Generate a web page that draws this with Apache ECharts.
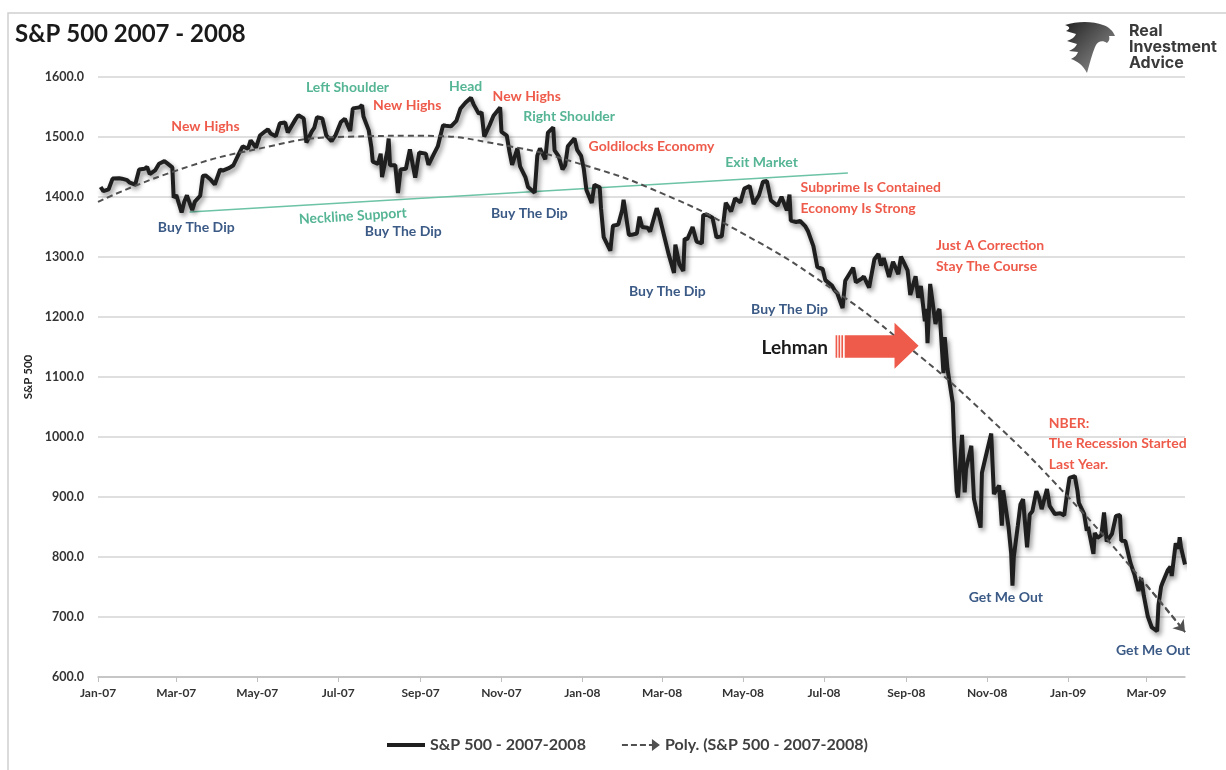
<!DOCTYPE html>
<html><head><meta charset="utf-8">
<script src="https://cdn.jsdelivr.net/npm/echarts@6/dist/echarts.min.js"></script>
<style>html,body{margin:0;padding:0;background:#fff}#c{width:1226px;height:770px}</style>
</head><body><div id="c"></div><script>
// ---------- DATA ----------
const spxDates = [
'2007-01-03','2007-01-05','2007-01-09','2007-01-12','2007-01-17','2007-01-19','2007-01-23','2007-01-25','2007-01-29','2007-02-01','2007-02-05','2007-02-07','2007-02-09','2007-02-13','2007-02-16','2007-02-20','2007-02-22','2007-02-26','2007-02-27','2007-03-01','2007-03-05','2007-03-07','2007-03-09','2007-03-13','2007-03-15','2007-03-19','2007-03-21','2007-03-23','2007-03-27','2007-03-30',
'2007-04-03','2007-04-05','2007-04-10','2007-04-13','2007-04-17','2007-04-20','2007-04-24','2007-04-26','2007-04-30','2007-05-03','2007-05-07','2007-05-09','2007-05-11','2007-05-15','2007-05-18','2007-05-22','2007-05-24','2007-05-30','2007-06-01','2007-06-05','2007-06-07','2007-06-11','2007-06-13','2007-06-15','2007-06-19','2007-06-22','2007-06-26','2007-06-29',
'2007-07-03','2007-07-06','2007-07-10','2007-07-12','2007-07-17','2007-07-19','2007-07-20','2007-07-24','2007-07-26','2007-07-27','2007-07-31','2007-08-02','2007-08-03','2007-08-07','2007-08-08','2007-08-09','2007-08-13','2007-08-15','2007-08-17','2007-08-21','2007-08-24','2007-08-28','2007-08-31','2007-09-05','2007-09-07','2007-09-11','2007-09-14','2007-09-18','2007-09-20','2007-09-24','2007-09-28',
'2007-10-01','2007-10-05','2007-10-09','2007-10-11','2007-10-15','2007-10-17','2007-10-19','2007-10-23','2007-10-26','2007-10-31','2007-11-01','2007-11-05','2007-11-07','2007-11-09','2007-11-13','2007-11-15','2007-11-19','2007-11-21','2007-11-26','2007-11-28','2007-11-30','2007-12-04','2007-12-06','2007-12-10','2007-12-11','2007-12-14','2007-12-17','2007-12-19','2007-12-21','2007-12-26','2007-12-28','2007-12-31',
'2008-01-02','2008-01-04','2008-01-08','2008-01-10','2008-01-14','2008-01-15','2008-01-17','2008-01-22','2008-01-24','2008-01-28','2008-01-31','2008-02-01','2008-02-05','2008-02-07','2008-02-11','2008-02-13','2008-02-15','2008-02-19','2008-02-21','2008-02-26','2008-02-28','2008-03-03','2008-03-06','2008-03-10','2008-03-11','2008-03-14','2008-03-17','2008-03-18','2008-03-20','2008-03-24','2008-03-27','2008-03-31',
'2008-04-01','2008-04-04','2008-04-08','2008-04-11','2008-04-15','2008-04-18','2008-04-22','2008-04-25','2008-04-29','2008-05-02','2008-05-06','2008-05-09','2008-05-13','2008-05-16','2008-05-19','2008-05-22','2008-05-27','2008-05-30','2008-06-03','2008-06-05','2008-06-06','2008-06-10','2008-06-13','2008-06-17','2008-06-19','2008-06-23','2008-06-26','2008-06-30',
'2008-07-02','2008-07-07','2008-07-09','2008-07-11','2008-07-15','2008-07-17','2008-07-23','2008-07-25','2008-07-29','2008-07-31','2008-08-04','2008-08-08','2008-08-11','2008-08-13','2008-08-15','2008-08-19','2008-08-22','2008-08-26','2008-08-28','2008-09-02','2008-09-04','2008-09-08','2008-09-10','2008-09-12','2008-09-15','2008-09-16','2008-09-17','2008-09-18','2008-09-19','2008-09-23','2008-09-25','2008-09-26','2008-09-29','2008-09-30',
'2008-10-02','2008-10-06','2008-10-07','2008-10-09','2008-10-10','2008-10-13','2008-10-15','2008-10-16','2008-10-20','2008-10-22','2008-10-24','2008-10-27','2008-10-28','2008-10-31','2008-11-04','2008-11-06','2008-11-10','2008-11-12','2008-11-13','2008-11-17','2008-11-19','2008-11-20','2008-11-21','2008-11-24','2008-11-26','2008-11-28','2008-12-01','2008-12-03','2008-12-05','2008-12-08','2008-12-10','2008-12-12','2008-12-16','2008-12-18','2008-12-22','2008-12-26','2008-12-29','2008-12-31',
'2009-01-02','2009-01-06','2009-01-08','2009-01-09','2009-01-13','2009-01-15','2009-01-16','2009-01-20','2009-01-21','2009-01-23','2009-01-26','2009-01-28','2009-01-30','2009-02-03','2009-02-06','2009-02-09','2009-02-10','2009-02-13','2009-02-17','2009-02-20','2009-02-23','2009-02-25','2009-02-27','2009-03-02','2009-03-05','2009-03-09','2009-03-10','2009-03-12','2009-03-13','2009-03-17','2009-03-19','2009-03-20','2009-03-23','2009-03-25','2009-03-26','2009-03-27','2009-03-30'
];
const spxValues = [
1416.6,1409.7,1412.8,1430.7,1431.3,1430.5,1428.0,1423.9,1420.6,1445.9,1447.0,1450.0,1438.1,1444.3,1455.5,1459.7,1456.4,1449.4,1399.0,1403.2,1374.1,1392.0,1402.8,1378.0,1392.3,1402.1,1435.0,1436.1,1428.6,1420.9,
1445.9,1443.8,1448.4,1452.9,1471.5,1484.4,1480.4,1494.3,1482.4,1502.4,1509.5,1512.6,1505.9,1501.2,1522.8,1524.1,1507.5,1530.2,1536.3,1531.0,1490.7,1509.1,1515.7,1532.9,1531.1,1502.6,1492.9,1503.4,
1524.9,1530.4,1510.1,1547.7,1549.4,1553.1,1534.1,1511.0,1482.7,1459.0,1455.3,1472.2,1433.1,1476.7,1497.5,1453.1,1452.9,1406.7,1445.9,1447.1,1479.4,1432.4,1474.0,1472.3,1453.6,1471.5,1484.3,1519.8,1518.8,1517.7,1526.8,
1547.0,1557.6,1565.2,1554.4,1538.5,1541.2,1500.6,1519.6,1535.3,1549.4,1508.4,1502.2,1475.6,1453.7,1481.1,1451.2,1433.3,1416.8,1407.2,1469.0,1481.1,1462.8,1507.3,1516.0,1477.7,1468.0,1445.9,1453.0,1484.5,1497.7,1478.5,1468.4,
1447.2,1411.6,1390.2,1420.3,1416.3,1381.0,1333.3,1310.5,1352.1,1354.0,1378.6,1395.4,1336.6,1336.9,1339.1,1367.2,1350.0,1348.8,1342.5,1381.3,1367.7,1331.3,1304.3,1273.4,1320.7,1288.1,1276.6,1330.7,1329.5,1349.9,1325.8,1322.7,
1370.2,1370.4,1365.5,1332.8,1334.4,1390.3,1375.9,1397.8,1390.9,1413.9,1418.3,1388.3,1403.0,1425.4,1426.6,1394.4,1385.4,1400.4,1377.7,1404.1,1360.7,1358.4,1360.0,1350.9,1342.8,1318.0,1283.2,1280.0,
1261.5,1252.3,1244.7,1239.5,1214.9,1260.3,1282.2,1257.8,1263.2,1267.4,1249.0,1296.3,1305.3,1285.8,1298.2,1266.7,1292.2,1271.5,1300.7,1277.6,1236.8,1267.8,1232.0,1251.7,1192.7,1213.6,1156.4,1206.5,1255.1,1188.2,1209.2,1213.3,1106.4,1166.4,
1114.3,1056.9,996.2,909.9,899.2,1003.4,907.8,946.4,985.4,896.8,876.8,848.9,940.5,968.8,1005.8,904.9,919.2,852.3,911.3,850.8,806.6,752.4,800.0,851.8,887.7,896.2,816.2,870.7,876.1,909.7,899.2,879.7,913.2,885.3,871.6,872.8,869.4,903.3,
931.8,934.7,909.7,890.4,871.8,843.7,850.1,805.2,840.2,832.0,836.6,874.1,825.9,838.5,868.6,869.9,827.2,826.8,789.2,770.1,743.3,764.9,735.1,700.8,682.6,676.5,719.6,750.7,756.6,778.1,784.0,768.5,822.9,813.9,832.9,815.9,787.5
];
// polynomial trendline
const trendDates  = ['2007-01-01','2007-03-01','2007-05-01','2007-07-01','2007-09-01','2007-11-01','2008-01-01','2008-03-01','2008-05-01','2008-07-01','2008-09-01','2008-11-01','2009-01-01','2009-03-01','2009-03-30'];
const trendValues = [1392,1444,1480,1500,1502,1487,1454,1406,1339,1256,1153,1035,900,753,675];
// neckline support
const necklineDates  = ['2007-03-11','2008-07-19'];
const necklineValues = [1375,1440];
// annotations: text, anchor date, anchor value, kind, alignment
const notes = [
 ['New Highs','2007-03-23',1517,'red','c'],
 ['Left Shoulder','2007-07-08',1582,'teal','c'],
 ['New Highs','2007-08-22',1553,'red','c'],
 ['Head','2007-10-05',1585,'teal','c'],
 ['New Highs','2007-11-20',1568,'red','c'],
 ['Right Shoulder','2007-12-22',1535,'teal','c'],
 ['Goldilocks Economy','2008-02-22',1485,'red','c'],
 ['Exit Market','2008-05-15',1457,'teal','c'],
 ['Subprime Is Contained\nEconomy Is Strong','2008-06-13',1399,'red','l'],
 ['Just A Correction\nStay The Course','2008-09-23',1302,'red','l'],
 ['NBER:\nThe Recession Started\nLast Year.','2008-12-17',989,'red','l'],
 ['Buy The Dip','2007-03-16',1350,'navy','c'],
 ['Buy The Dip','2007-08-19',1342,'navy','c'],
 ['Buy The Dip','2007-11-22',1372,'navy','c'],
 ['Buy The Dip','2008-03-05',1242,'navy','c'],
 ['Buy The Dip','2008-06-05',1212,'navy','c'],
 ['Neckline Support','2007-07-12',1368,'tealrot','c'],
 ['Lehman','2008-06-09',1148,'black','c'],
 ['Get Me Out','2008-11-15',732,'navy','c'],
 ['Get Me Out','2009-03-06',645,'navy','c']
];
const lehmanArrow = ['2008-08-10',1152];
const yMin = 600, yMax = 1600, yStep = 100;
const monthNames = ['Jan','Feb','Mar','Apr','May','Jun','Jul','Aug','Sep','Oct','Nov','Dec'];

// ---------- CHART ----------
const FONT = 'Lato, "Open Sans", sans-serif';
const colors = {red:'#EE5B4B', teal:'#55B594', tealrot:'#55B594', navy:'#3B5A86', black:'#1a1a1a'};
const chart = echarts.init(document.getElementById('c'), null, {renderer:'canvas'});
const DAY = 86400000;

const markData = notes.map(n => {
  const left = n[4] === 'l';
  const lines = n[0].split('\n').length;
  return {
    coord: [n[1], n[2]],
    symbol: 'circle', symbolSize: 1,
    itemStyle: {color: 'rgba(0,0,0,0)'},
    label: {
      show: true, formatter: n[0],
      position: left ? 'right' : 'inside', distance: 0,
      align: left ? 'left' : 'center', verticalAlign: 'middle',
      color: colors[n[3]], fontFamily: FONT, fontWeight: 'bold',
      fontSize: n[3] === 'black' ? 19 : 14,
      lineHeight: lines === 3 ? 20.5 : 21,
      rotate: n[3] === 'tealrot' ? 3.5 : 0
    }
  };
});
markData.push({
  coord: lehmanArrow,
  symbol: 'path://M0,27 H2 V76 H0 Z M3.5,27 H5.5 V76 H3.5 Z M7,27 H9 V76 H7 Z M11,27 H71 V0 L100,50 L71,100 V76 H11 Z',
  symbolSize: [83, 46], symbolKeepAspect: false,
  itemStyle: {color: '#EE5B4B'}, label: {show: false}
});

const eagleSvg = '<svg xmlns="http://www.w3.org/2000/svg" width="50" height="52" viewBox="0 0 50 52"><defs><linearGradient id="g" x1="0" y1="0" x2="1" y2="1"><stop offset="0" stop-color="#222"/><stop offset="1" stop-color="#9a9a9a"/></linearGradient></defs><path fill="url(#g)" d="M0,4 C12,0 28,0 38,4 C44,6 48,10 50,15 L44,15 C45,18 44,20 42,22 C38,19 33,20 31,24 C28,30 26,38 22,52 C18,44 12,40 6,38 C10,36 12,34 13,31 L4,30 C8,28 11,26 12,23 L2,20 C7,18 10,16 11,13 L1,10 C5,8 6,6 0,4 Z"/></svg>';

chart.setOption({
  animation: false,
  backgroundColor: '#ffffff',
  title: {
    text: 'S&P 500 2007 - 2008', left: 10, top: 17,
    textStyle: {fontFamily: FONT, fontWeight: 'bold', fontSize: 24, color: '#1a1a1a'}
  },
  grid: {left: 98, right: 41, top: 77, bottom: 93, containLabel: false},
  legend: {
    left: 382, bottom: 12, itemWidth: 38, itemHeight: 14, itemGap: 36,
    textStyle: {fontFamily: FONT, fontWeight: 'bold', fontSize: 16, color: '#404040'},
    data: [
      {name: 'S&P 500 - 2007-2008', icon: 'path://M0,5 H38 V9 H0 Z', itemStyle: {color: '#1f1f1f'}},
      {name: 'Poly. (S&P 500 - 2007-2008)', icon: 'path://M0,6 H6 V8 H0 Z M9,6 H15 V8 H9 Z M18,6 H24 V8 H18 Z M27,6 H31 V8 H27 Z M30,1 L38,7 L30,13 Z', itemStyle: {color: '#505050'}}
    ]
  },
  xAxis: {
    type: 'time', min: '2007-01-01', max: spxDates[spxDates.length - 1],
    splitNumber: 12, minInterval: 61 * DAY, maxInterval: 85 * DAY,
    axisLine: {lineStyle: {color: '#bfbfbf', width: 1.5}},
    axisTick: {show: true, length: 5, lineStyle: {color: '#bfbfbf'}},
    splitLine: {show: false},
    axisLabel: {
      margin: 10, color: '#333', fontFamily: FONT, fontWeight: 'bold', fontSize: 12,
      showMaxLabel: false,
      formatter: v => { const d = new Date(v); return monthNames[d.getMonth()] + '-' + String(d.getFullYear()).slice(2); }
    }
  },
  yAxis: {
    type: 'value', min: yMin, max: yMax, interval: yStep,
    name: 'S&P 500', nameLocation: 'middle', nameGap: 62,
    nameTextStyle: {fontFamily: FONT, fontWeight: 'bold', fontSize: 11.5, color: '#222'},
    axisLine: {show: false}, axisTick: {show: false},
    splitLine: {lineStyle: {color: '#d4d4d4', width: 1.5}},
    axisLabel: {margin: 14, color: '#333', fontFamily: FONT, fontWeight: 'bold', fontSize: 12.5, formatter: v => v.toFixed(1)}
  },
  series: [
    {
      name: 'S&P 500 - 2007-2008', type: 'line', showSymbol: false, symbol: 'none', z: 3,
      data: spxDates.map((d, i) => [d, spxValues[i]]),
      lineStyle: {color: '#1f1f1f', width: 4, shadowColor: 'rgba(0,0,0,0.45)', shadowBlur: 5, shadowOffsetX: 2, shadowOffsetY: 3},
      itemStyle: {color: '#1f1f1f'}
    },
    {
      name: 'Poly. (S&P 500 - 2007-2008)', type: 'line', showSymbol: false, symbol: 'none', smooth: 0.5, z: 4,
      data: trendDates.map((d, i) => [d, trendValues[i]]),
      lineStyle: {color: '#505050', width: 2, type: [6, 4]},
      itemStyle: {color: '#505050'},
      markLine: {
        silent: true, symbol: ['none', 'arrow'], symbolSize: 11,
        label: {show: false},
        lineStyle: {color: '#505050', width: 2, type: [6, 4]},
        data: [[
          {coord: [trendDates[trendDates.length - 2], trendValues[trendValues.length - 2]]},
          {coord: [trendDates[trendDates.length - 1], trendValues[trendValues.length - 1]]}
        ]]
      }
    },
    {
      name: 'Neckline', type: 'line', showSymbol: false, symbol: 'none', z: 2, silent: true,
      data: necklineDates.map((d, i) => [d, necklineValues[i]]),
      lineStyle: {color: '#6CC3A5', width: 1.5},
      markPoint: {silent: true, data: markData}
    }
  ],
  graphic: [
    {type: 'rect', shape: {x: 8, y: 13, width: 1240, height: 800}, style: {fill: 'none', stroke: '#d0d0d0', lineWidth: 1.5}, silent: true, z: -10},
    {type: 'image', left: 1065, top: 21, style: {image: 'data:image/svg+xml;charset=utf-8,' + encodeURIComponent(eagleSvg), width: 50, height: 52}},
    {type: 'text', left: 1129, top: 23, style: {text: 'Real', fontFamily: 'Inter, sans-serif', fontWeight: 'bold', fontSize: 16, fill: '#3a3a3a'}},
    {type: 'text', left: 1129, top: 39, style: {text: 'Investment', fontFamily: 'Inter, sans-serif', fontWeight: 'bold', fontSize: 16, fill: '#3a3a3a'}},
    {type: 'text', left: 1129, top: 55, style: {text: 'Advice', fontFamily: 'Inter, sans-serif', fontWeight: 'bold', fontSize: 16, fill: '#3a3a3a'}}
  ]
});
</script></body></html>
